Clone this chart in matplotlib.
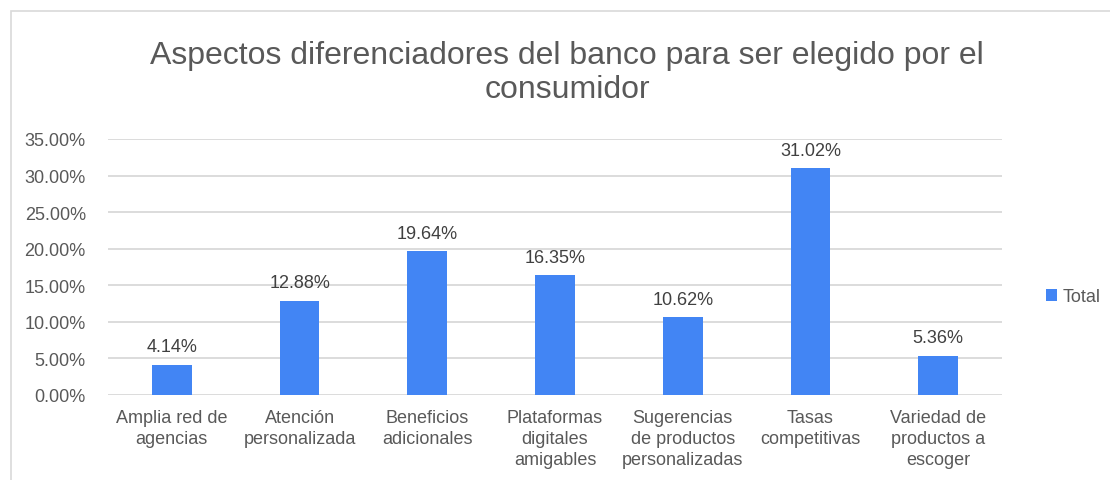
import matplotlib.pyplot as plt
from matplotlib.patches import Rectangle
from matplotlib.ticker import FuncFormatter

plt.rcParams['font.family'] = ['Liberation Sans', 'DejaVu Sans']

categorias = ["Amplia red de\nagencias", "Atención\npersonalizada", "Beneficios\nadicionales",
              "Plataformas\ndigitales\namigables", "Sugerencias\nde productos\npersonalizadas",
              "Tasas\ncompetitivas", "Variedad de\nproductos a\nescoger"]
valores = [4.14, 12.88, 19.64, 16.35, 10.62, 31.02, 5.36]
yticks = [0, 5, 10, 15, 20, 25, 30, 35]

gris = '#595959'
azul = '#4285F4'

fig = plt.figure(figsize=(11.1, 4.81), dpi=100)
ax = fig.add_axes([108/1110, 1 - 396/481, 894/1110, 256/481])

# marco exterior del grafico (solo arriba e izquierda)
fig.patches.append(Rectangle((11/1110, -0.1), 1.2, 1 - 12/481 + 0.1, transform=fig.transFigure,
                             fill=False, edgecolor='#d9d9d9', linewidth=1.2))

x = range(len(categorias))
barras = ax.bar(x, valores, width=0.31, color=azul, label='Total', zorder=3)
for xi, v in zip(x, valores):
    ax.text(xi, v + 1.3, f"{v:.2f}%", ha='center', va='bottom', fontsize=13, color='#404040')

ax.set_xlim(-0.5, len(categorias) - 0.5)
ax.set_ylim(0, 35)
ax.set_yticks(yticks)
ax.yaxis.set_major_formatter(FuncFormatter(lambda v, p: f"{v:.2f}%"))
ax.set_xticks(list(x))
ax.set_xticklabels(categorias, fontsize=13, color=gris, linespacing=1.3)
ax.tick_params(axis='y', labelsize=13, labelcolor=gris, length=0, pad=16)
ax.tick_params(axis='x', length=0, pad=10)
ax.grid(axis='y', color='#d9d9d9', linewidth=1.3, zorder=0)
for s in ax.spines.values():
    s.set_visible(False)

fig.text(567/1110, 1 - 73/481, "Aspectos diferenciadores del banco para ser elegido por el\nconsumidor",
         ha='center', va='center', fontsize=23, color=gris, linespacing=1.2)

fig.legend(handles=[barras], labels=['Total'], loc='center left', bbox_to_anchor=(1030/1110, 1 - 298/481),
           frameon=False, fontsize=13, handlelength=0.6, handleheight=0.6, handletextpad=0.3,
           labelcolor=gris)

fig.savefig('out.png', dpi=100, facecolor='white')
